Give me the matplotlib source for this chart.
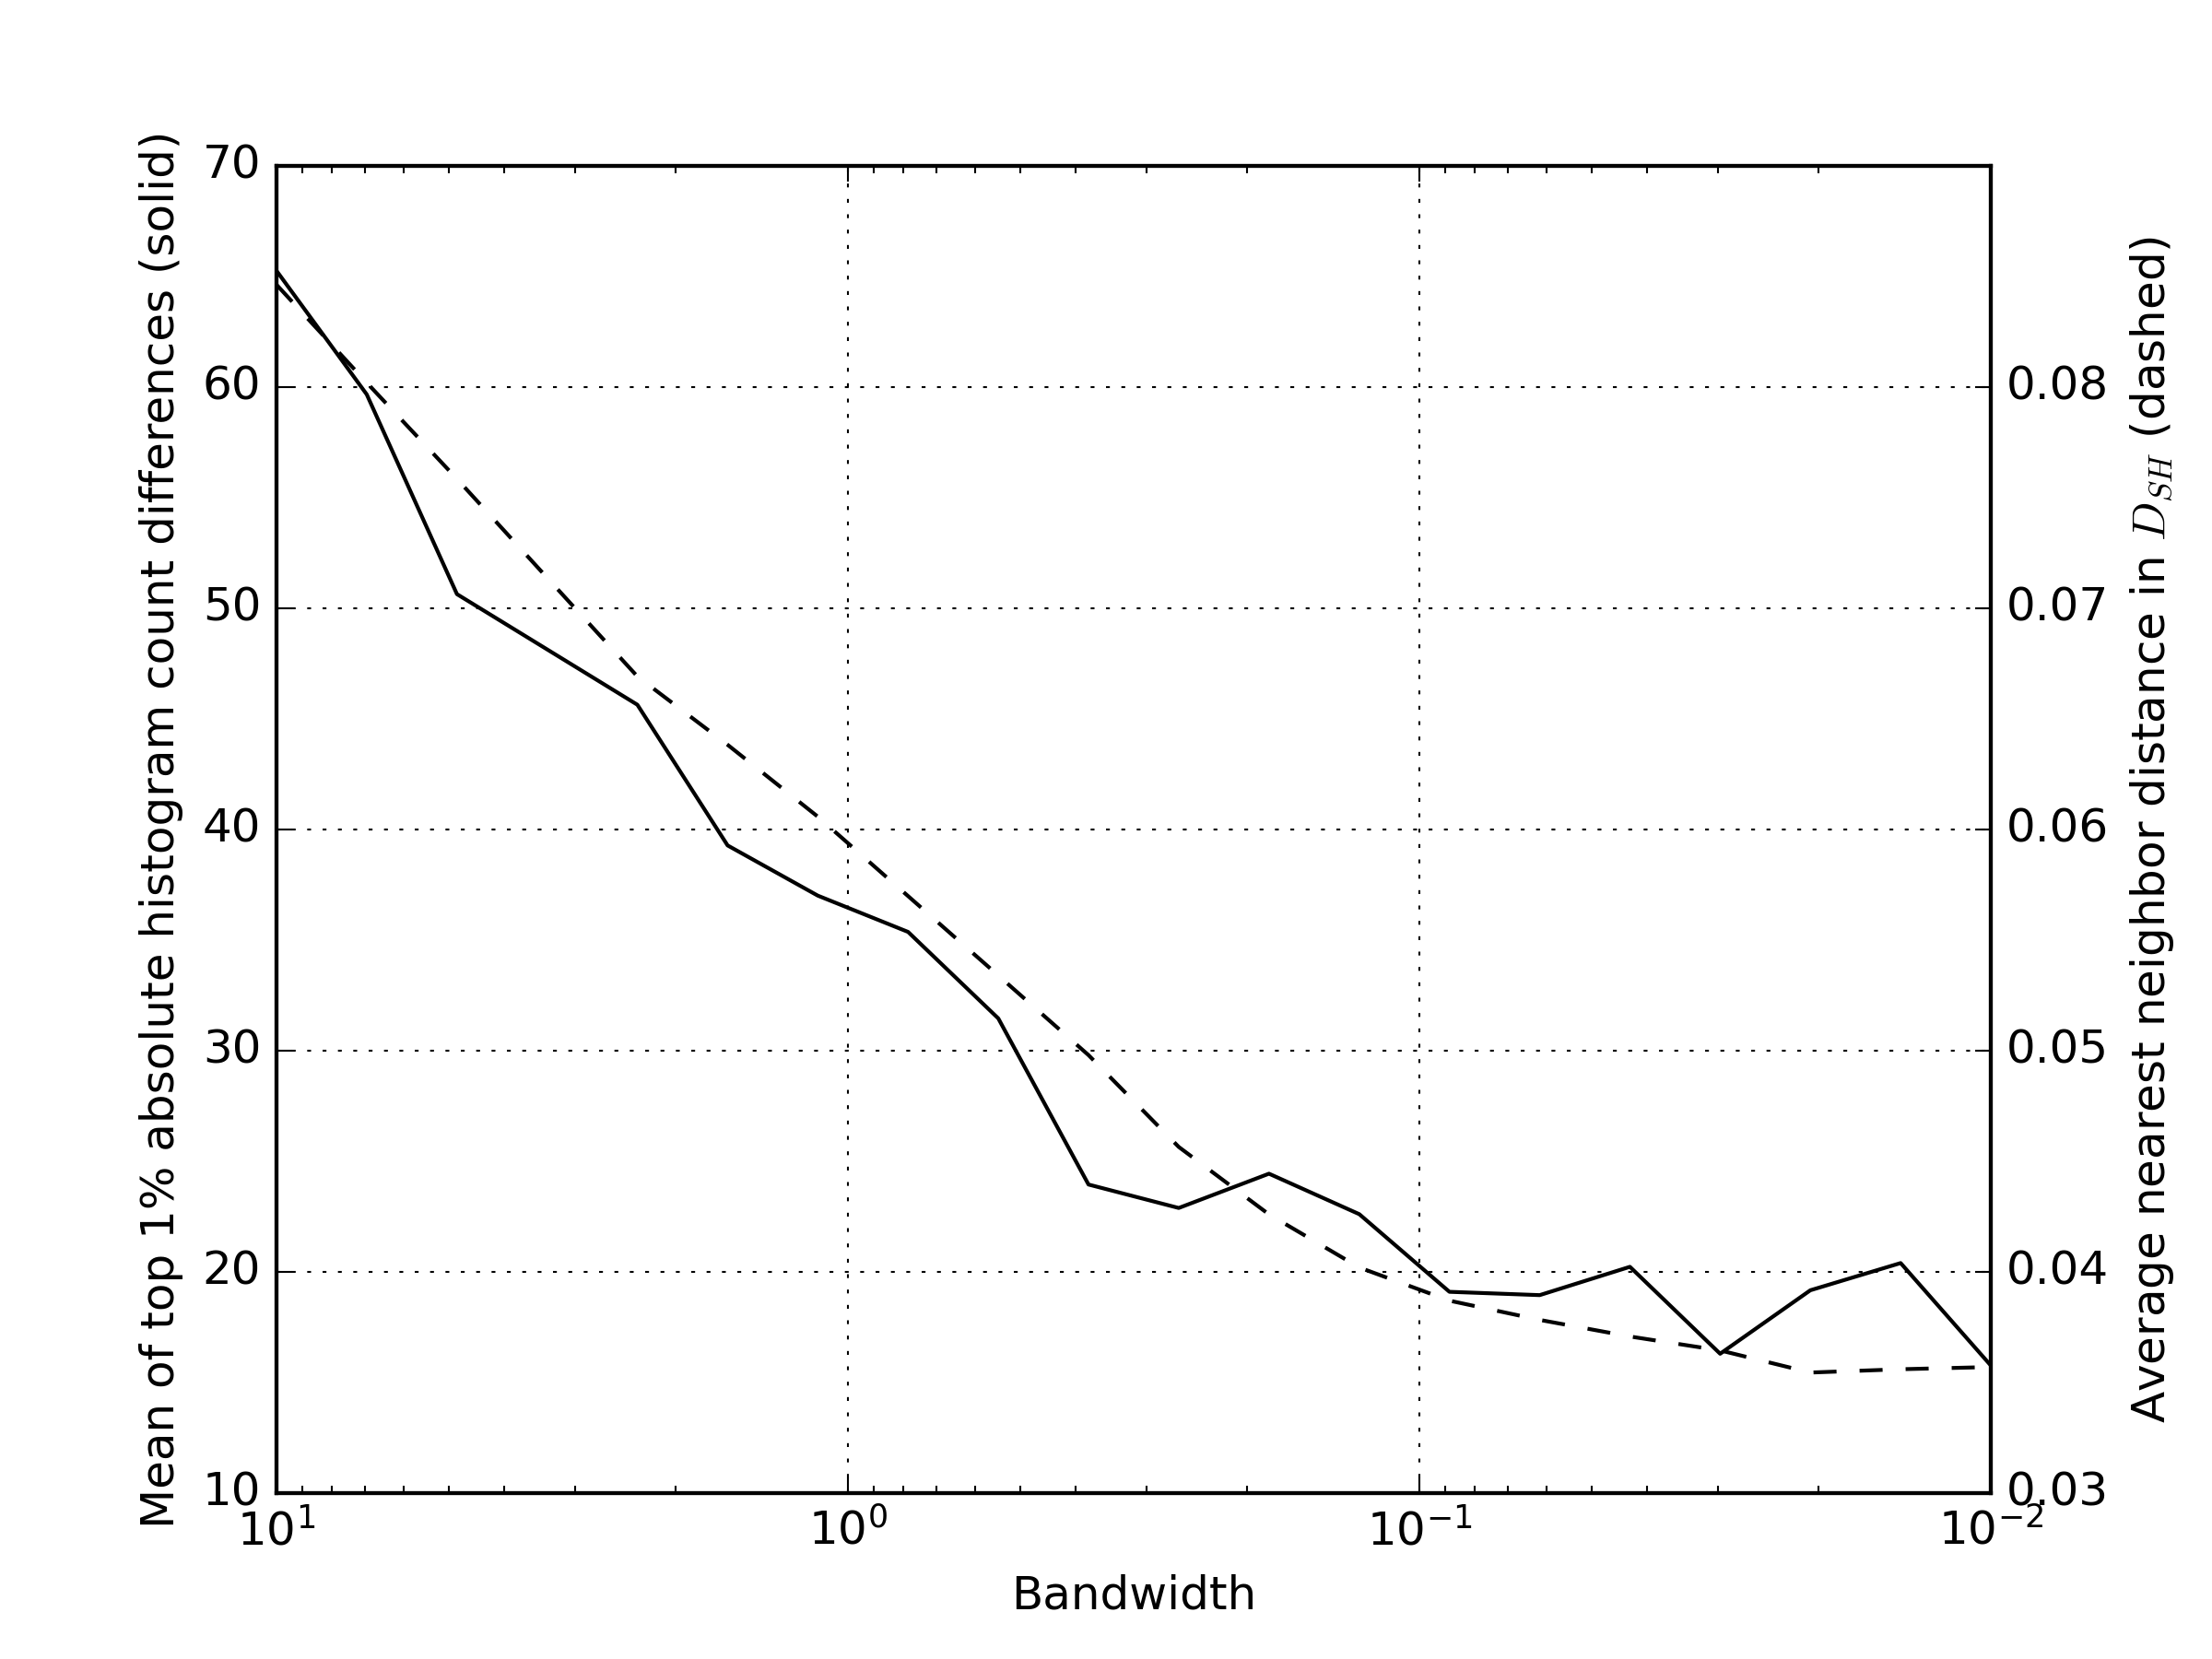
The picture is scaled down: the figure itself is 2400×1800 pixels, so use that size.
#!/usr/bin/env python3
"""Histogram count differences and nearest-neighbour distance vs. bandwidth."""

import matplotlib

matplotlib.use("Agg")
import matplotlib.pyplot as plt

bandwidth = [10.0, 6.952, 4.833, 3.360, 2.336, 1.624, 1.129, 0.7848, 0.5456, 0.3793,
             0.2637, 0.1833, 0.1274, 0.08859, 0.06158, 0.04281, 0.02976, 0.02069, 0.01438, 0.01]
top_diff = [65.26, 59.67, 50.64, 48.14, 45.64, 39.28, 37.01, 35.37, 31.46, 23.95,
            22.89, 24.44, 22.61, 19.10, 18.95, 20.23, 16.30, 19.17, 20.40, 15.77]
nn_dist = [0.08463, 0.0802, 0.07585, 0.07138, 0.06692, 0.06383, 0.06058, 0.05699, 0.0534, 0.0498,
           0.04565, 0.0426, 0.0402, 0.0387, 0.03783, 0.03708, 0.03645, 0.03545, 0.0356, 0.0357]
right_ticks = [0.03, 0.04, 0.05, 0.06, 0.07, 0.08]


def main() -> int:
    plt.style.use("classic")
    fig, ax = plt.subplots(figsize=(8, 6), dpi=300)
    fig.patch.set_facecolor("white")

    ax.plot(bandwidth, top_diff, "k-")
    ax.set_xscale("log")
    ax.set_xlim(10, 0.01)
    ax.set_ylim(10, 70)
    ax.grid(True)
    ax.set_xlabel("Bandwidth")
    ax.set_ylabel("Mean of top 1% absolute histogram count differences (solid)")

    ax2 = ax.twinx()
    ax2.plot(bandwidth, nn_dist, "k--")
    ax2.set_xscale("log")
    ax2.set_xlim(10, 0.01)
    ax2.set_ylim(0.03, 0.09)
    ax2.set_yticks(right_ticks)
    ax2.set_ylabel(r"Average nearest neighbor distance in $D_{SH}$ (dashed)")

    fig.savefig("out.png", dpi=300, facecolor="white")
    plt.close(fig)
    return 0


if __name__ == "__main__":
    raise SystemExit(main())
